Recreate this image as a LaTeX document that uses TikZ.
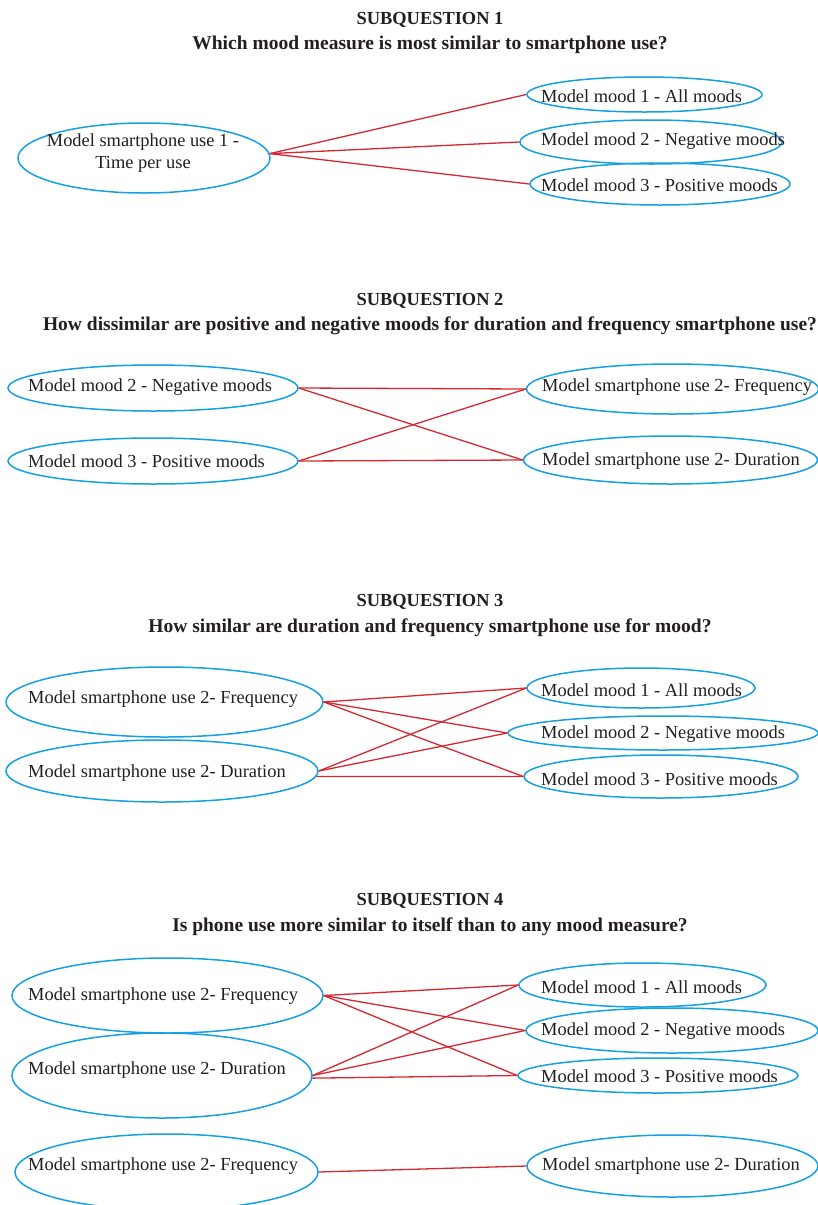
\documentclass[tikz,border=0pt]{standalone}
\usepackage{fontspec}
\setmainfont{Liberation Serif}
\usetikzlibrary{shapes.geometric}
\definecolor{ellblue}{RGB}{20,160,225}
\definecolor{conred}{RGB}{214,40,48}
\definecolor{txt}{RGB}{35,31,32}
\tikzset{
  ell/.style={draw=ellblue, line width=1.5pt, ellipse, inner sep=0pt},
  lbl/.style={anchor=west, inner sep=0pt, yshift=-2pt, text=txt, font=\fontsize{18.4}{22}\selectfont},
  ttl/.style={inner sep=0pt, yshift=-2pt, text=txt, font=\fontsize{18.4}{22}\selectfont\bfseries},
  sub/.style={inner sep=0pt, yshift=-2pt, text=txt, font=\fontsize{19.5}{22}\selectfont\bfseries},
  con/.style={draw=conred, line width=1.3pt},
}
\begin{document}
\begin{tikzpicture}[x=1pt,y=-1pt]
\fill[white] (0,0) rectangle (818,1205);
\useasboundingbox (0,0) rectangle (818,1205);
\begin{scope}
\clip (0,0) rectangle (818,1205);
% ---------- SQ1
\node[ttl] (t1) at (430,18) {SUBQUESTION 1};
\node[sub] (s1) at (430,43) {Which mood measure is most similar to smartphone use?};
\node[ell, minimum width=252pt, minimum height=70pt] (a1) at (144,158) {};
\node[ell, minimum width=235pt, minimum height=35pt] (a2) at (644.5,94.5) {};
\node[ell, minimum width=262pt, minimum height=44pt] (a3) at (651,142) {};
\node[ell, minimum width=260pt, minimum height=42pt] (a4) at (660,184) {};
\node[inner sep=0pt, yshift=-2pt, text=txt, align=center, font=\fontsize{18.4}{22}\selectfont] (la1) at (143,151) {Model smartphone use 1 -\\Time per use};
\node[lbl] (la2) at (541,94) {Model mood 1 - All moods};
\node[lbl] (la3) at (541,139) {Model mood 2 - Negative moods};
\node[lbl] (la4) at (541,183) {Model mood 3 - Positive moods};
\draw[con] (a1.2) -- (a2.west);
\draw[con] (a1.2) -- (a3.west);
\draw[con] (a1.2) -- (a4.west);
% ---------- SQ2
\node[ttl] (t2) at (430,299) {SUBQUESTION 2};
\node[sub] (s2) at (430,324) {How dissimilar are positive and negative moods for duration and frequency smartphone use?};
\node[ell, minimum width=290pt, minimum height=46pt] (b1) at (153,388) {};
\node[ell, minimum width=290pt, minimum height=46pt] (b2) at (153,461) {};
\node[ell, minimum width=292pt, minimum height=50pt] (b3) at (672.5,389) {};
\node[ell, minimum width=294pt, minimum height=48pt] (b4) at (670.5,460) {};
\node[lbl] (lb1) at (28,385) {Model mood 2 - Negative moods};
\node[lbl] (lb2) at (28,459) {Model mood 3 - Positive moods};
\node[lbl] (lb3) at (542,385) {Model smartphone use 2- Frequency};
\node[lbl] (lb4) at (542,459) {Model smartphone use 2- Duration};
\draw[con] (b1.east) -- (b3.west);
\draw[con] (b1.east) -- (b4.west);
\draw[con] (b2.east) -- (b3.west);
\draw[con] (b2.east) -- (b4.west);
% ---------- SQ3
\node[ttl] (t3) at (430,600) {SUBQUESTION 3};
\node[sub] (s3) at (430,626) {How similar are duration and frequency smartphone use for mood?};
\node[ell, minimum width=317pt, minimum height=70pt] (c1) at (164.5,702) {};
\node[ell, minimum width=312pt, minimum height=62pt] (c2) at (162,771) {};
\node[ell, minimum width=228pt, minimum height=40pt] (c3) at (641,688) {};
\node[ell, minimum width=310pt, minimum height=34pt] (c4) at (663,733) {};
\node[ell, minimum width=274pt, minimum height=43pt] (c5) at (661,776.5) {};
\node[lbl] (lc1) at (28,697) {Model smartphone use 2- Frequency};
\node[lbl] (lc2) at (28,771) {Model smartphone use 2- Duration};
\node[lbl] (lc3) at (541,688) {Model mood 1 - All moods};
\node[lbl] (lc4) at (541,732) {Model mood 2 - Negative moods};
\node[lbl] (lc5) at (541,777) {Model mood 3 - Positive moods};
\draw[con] (c1.east) -- (c3.west);
\draw[con] (c1.east) -- (c4.west);
\draw[con] (c1.east) -- (c5.west);
\draw[con] (c2.east) -- (c3.west);
\draw[con] (c2.east) -- (c4.west);
\draw[con] (c2.-2) -- (c5.west);
% ---------- SQ4
\node[ttl] (t4) at (430,899) {SUBQUESTION 4};
\node[sub] (s4) at (430,925) {Is phone use more similar to itself than to any mood measure?};
\node[ell, minimum width=311pt, minimum height=75pt] (d1) at (167.5,995.5) {};
\node[ell, minimum width=300pt, minimum height=85pt] (d2) at (162,1075.5) {};
\node[ell, minimum width=247pt, minimum height=44pt] (d3) at (642.5,985) {};
\node[ell, minimum width=292pt, minimum height=45pt] (d4) at (672,1030.5) {};
\node[ell, minimum width=280pt, minimum height=35pt] (d5) at (658,1075.5) {};
\node[ell, minimum width=303pt, minimum height=76pt] (d6) at (166.5,1172) {};
\node[ell, minimum width=291pt, minimum height=62pt] (d7) at (672.5,1166) {};
\node[lbl] (ld1) at (28,994) {Model smartphone use 2- Frequency};
\node[lbl] (ld2) at (28,1068) {Model smartphone use 2- Duration};
\node[lbl] (ld3) at (541,985) {Model mood 1 - All moods};
\node[lbl] (ld4) at (541,1029) {Model mood 2 - Negative moods};
\node[lbl] (ld5) at (541,1074) {Model mood 3 - Positive moods};
\node[lbl] (ld6) at (28,1164) {Model smartphone use 2- Frequency};
\node[lbl] (ld7) at (542,1164) {Model smartphone use 2- Duration};
\draw[con] (d1.east) -- (d3.west);
\draw[con] (d1.east) -- (d4.west);
\draw[con] (d1.east) -- (d5.west);
\draw[con] (d2.east) -- (d3.west);
\draw[con] (d2.east) -- (d4.west);
\draw[con] (d2.-1) -- (d5.west);
\draw[con] (d6.east) -- (d7.west);
\end{scope}
\end{tikzpicture}
\end{document}
